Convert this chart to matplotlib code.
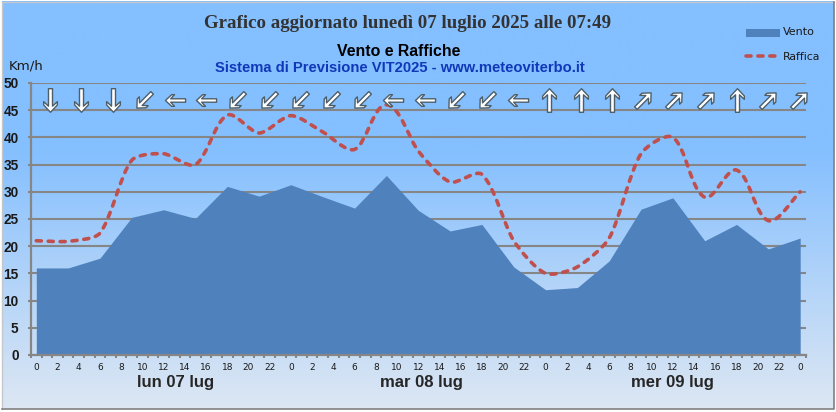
import numpy as np
import matplotlib
matplotlib.use("Agg")
import matplotlib.pyplot as plt
from matplotlib.lines import Line2D
from matplotlib.markers import MarkerStyle
from matplotlib.patches import PathPatch, Rectangle
from matplotlib.path import Path
from matplotlib.transforms import Affine2D

W, H = 836, 412

# valori, un punto ogni 3 ore
ore = list(range(0, 73, 3))
vento = [16, 16, 17.8, 25.3, 26.7, 25.1, 31, 29.2, 31.3, 29.1, 27, 33, 26.6,
         22.8, 24, 16.2, 12, 12.4, 17.3, 26.8, 28.9, 21, 24, 19.5, 21.5]
raffica = [21, 20.9, 22.4, 35.8, 37, 35, 44.1, 40.8, 44, 41, 37.8, 46, 37.5,
           31.8, 33.2, 21, 15, 16.2, 21.5, 37, 40, 29, 34, 24.7, 30]
direzioni = ["S", "S", "S", "SW", "W", "W", "SW", "SW", "SW", "SW", "SW", "W", "W",
             "SW", "SW", "W", "N", "N", "N", "NE", "NE", "NE", "N", "NE", "NE"]
etichette_ore = ["0", "2", "4", "6", "8", "10", "12", "14", "16", "18", "20", "22"] * 3 + ["0"]
giorni = ["lun 07 lug", "mar 08 lug", "mer 09 lug"]
tacche_y = [0, 5, 10, 15, 20, 25, 30, 35, 40, 45, 50]

ROTAZIONE = {"N": 0, "NE": -45, "W": 90, "SW": 135, "S": 180}
DIMENSIONE = {"N": 17, "S": 17, "W": 14.5, "SW": 15.5, "NE": 15.5}
COL_GRIGIO = "#868686"


def px_x(x):
    return x / W


def px_y(y):
    return 1 - y / H


def curva_smussata(x, y, sx, sy, k=0.24):
    # bezier con maniglie proporzionali al segmento, calcolate in pixel
    pts = np.column_stack([np.asarray(x, float) * sx, np.asarray(y, float) * sy])
    seg = np.hypot(*(pts[1:] - pts[:-1]).T)
    dirz = np.zeros_like(pts)
    dirz[1:-1] = pts[2:] - pts[:-2]
    dirz[0] = pts[1] - pts[0]
    dirz[-1] = pts[-1] - pts[-2]
    dirz /= np.hypot(*dirz.T)[:, None]
    vertici = [pts[0]]
    codici = [Path.MOVETO]
    for i in range(len(pts) - 1):
        vertici += [pts[i] + dirz[i] * seg[i] * k, pts[i + 1] - dirz[i + 1] * seg[i] * k, pts[i + 1]]
        codici += [Path.CURVE4] * 3
    return Path(np.array(vertici) / [sx, sy], codici)


def freccia():
    v = [(0, 1), (0.58, 0.38), (0.58, 0.1), (0.17, 0.48), (0.17, -1), (-0.17, -1),
         (-0.17, 0.48), (-0.58, 0.1), (-0.58, 0.38), (0, 1)]
    return Path(v, closed=True)


fig = plt.figure(figsize=(W / 100, H / 100), dpi=100, facecolor="white")

# sfondo sfumato con bordo
bg = fig.add_axes([0, 0, 1, 1], zorder=0)
yy = np.linspace(0, 1, 256)
sfum = np.column_stack([np.interp(yy, [0, 0.36, 1], [a, a, b]) for a, b in
                        zip((0x84, 0xbf, 0xff), (0xdd, 0xe7, 0xf3))]) / 255
bg.imshow(sfum[:, None, :], extent=(1.5, 833.5, 409, 1.5), aspect="auto", interpolation="bilinear")
bg.set_xlim(0, W)
bg.set_ylim(H, 0)
bg.axis("off")
bg.plot([1.5, 1.5, 833.5], [409, 1.5, 1.5], color="#c4c8cc", lw=1.0)
bg.plot([1.5, 833.5, 833.5], [409, 409, 1.5], color="#808080", lw=1.2)

ax = fig.add_axes([px_x(31), px_y(355), (805.5 - 31) / W, (355 - 83) / H], zorder=1)
ax.patch.set_alpha(0)
ax.set_xlim(-0.5, 72.5)
ax.set_ylim(0, 50)

ax.fill_between(ore, vento, 0, color="#4f81bd", lw=0, zorder=2)
patch_raffica = PathPatch(curva_smussata(ore, raffica, 10.61, 5.44), fill=False, ec="#c0504d", lw=2.6,
                          ls=(0, (1.4, 1.9)), capstyle="round", zorder=3)
ax.add_patch(patch_raffica)

ax.set_yticks(tacche_y)
ax.grid(axis="y", color=COL_GRIGIO, lw=1.5, zorder=1)
ax.set_axisbelow(True)
for lab in ax.get_yticklabels():
    lab.set_fontfamily("Liberation Sans")
    lab.set_fontweight("bold")
    lab.set_fontsize(9.8)
    lab.set_color("#1a1a1a")
ax.tick_params(axis="y", length=2.5, width=1.5, color=COL_GRIGIO, pad=6.5)

# tacche ogni ora, etichette ogni due
ax.set_xticks(np.arange(-0.5, 73, 1))
ax.set_xticklabels([])
ax.tick_params(axis="x", which="major", length=2.5, width=1.5, color=COL_GRIGIO)
ax.set_xticks(np.arange(0, 73, 2), minor=True)
ax.set_xticklabels(etichette_ore, minor=True, fontsize=6.5, family="DejaVu Sans", color="#1a1a1a")
ax.tick_params(axis="x", which="minor", length=0, pad=5.5)

for lato in ["top", "right"]:
    ax.spines[lato].set_visible(False)
for lato in ["left", "bottom"]:
    ax.spines[lato].set_color(COL_GRIGIO)
    ax.spines[lato].set_linewidth(1.6)

# frecce direzione vento
pos_frecce = np.linspace(1.3, 71.9, len(direzioni))
for xf, d in zip(pos_frecce, direzioni):
    m = MarkerStyle(freccia(), transform=Affine2D().rotate_deg(ROTAZIONE[d]))
    ax.plot([xf], [46.9], marker=m, ms=DIMENSIONE[d], mfc="white", mec="#4f5f68", mew=1.0,
            ls="none", clip_on=False, zorder=5)

# testi
fig.text(px_x(407.5), px_y(23), "Grafico aggiornato lunedì 07 luglio 2025 alle 07:49",
         family="Liberation Serif", weight="bold", fontsize=13.6, color="#333333",
         ha="center", va="center")
fig.text(px_x(399), px_y(51), "Vento e Raffiche", family="Liberation Sans", weight="bold",
         fontsize=11.4, color="black", ha="center", va="center")
fig.text(px_x(400), px_y(68), "Sistema di Previsione VIT2025 - www.meteoviterbo.it",
         family="Liberation Sans", weight="bold", fontsize=10.6, color="#1038b8",
         ha="center", va="center")
fig.text(px_x(26), px_y(66), "Km/h", family="DejaVu Sans", fontsize=9.6, color="#1a1a1a",
         ha="center", va="center")

for xg, g in zip([176, 421, 672], giorni):
    fig.text(px_x(xg), px_y(382), g, family="Liberation Sans", weight="bold", fontsize=12,
             color="#262626", ha="center", va="center")

# legenda a mano
leg = fig.add_axes([0, 0, 1, 1], zorder=2)
leg.set_xlim(0, W)
leg.set_ylim(H, 0)
leg.axis("off")
leg.add_patch(Rectangle((746, 29), 34, 8, color="#4f81bd", lw=0))
leg.add_line(Line2D([746, 776], [56, 56], color="#c0504d", lw=2.6, ls=(0, (1.4, 1.9)),
                    dash_capstyle="round"))
leg.text(783, 32, "Vento", family="DejaVu Sans", fontsize=8, color="#1a1a1a", va="center")
leg.text(783, 57, "Raffica", family="DejaVu Sans", fontsize=7.8, color="#1a1a1a", va="center")

fig.savefig("out.png", dpi=100)
